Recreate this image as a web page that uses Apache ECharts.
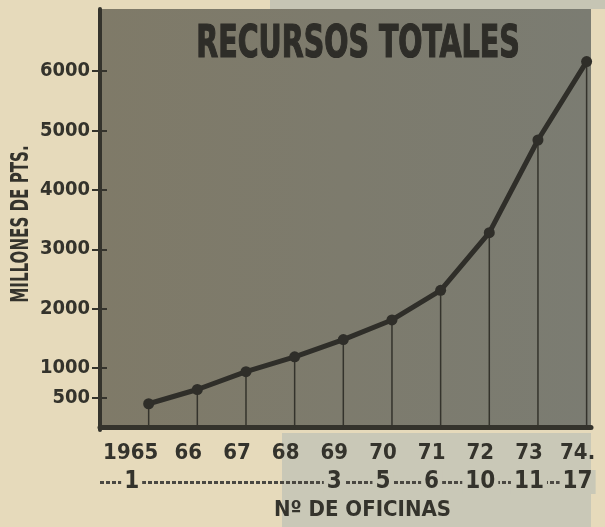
<!DOCTYPE html>
<html><head><meta charset="utf-8">
<script src="https://cdn.jsdelivr.net/npm/echarts@6/dist/echarts.min.js"></script>
<style>html,body{margin:0;padding:0;background:#e6dabb}#c{width:605px;height:527px}</style>
</head><body><div id="c"></div>
<script>
const years = [1965,1966,1967,1968,1969,1970,1971,1972,1973,1974];
const yearLabels = ['1965','66','67','68','69','70','71','72','73','74.'];
const recursos = [400,640,940,1190,1480,1810,2310,3280,4840,6160];
const oficinas = ['1','','','','3','5','6','10','11','17'];
const yTicks = [500,1000,2000,3000,4000,5000,6000];
const chartTitle = 'RECURSOS TOTALES';
const yName = 'MILLONES DE PTS.';
const xName = 'Nº DE OFICINAS';

const F = "'Liberation Sans Narrow','DejaVu Sans Condensed','DejaVu Sans',sans-serif";
const INK = '#34332c';
const PAPER = '#e6dabb';
const BLUE = '#c9c8b7';
const XMIN = 1964, XMAX = 1974.09, SHIFT = 0.185;

const pts = years.map((y,i)=>[y, recursos[i]]);
const offYears = years.filter((y,i)=>oficinas[i] !== '');

const chart = echarts.init(document.getElementById('c'), null, {renderer:'canvas'});
chart.setOption({
  backgroundColor: PAPER,
  animation: false,
  grid: {left:100, top:9, right:14, bottom:97, show:true, borderWidth:0,
    backgroundColor: new echarts.graphic.LinearGradient(0,0,1,0,[{offset:0,color:'#7f7a68'},{offset:1,color:'#7b7c72'}])},
  xAxis: [{
    type:'value', min:XMIN, max:XMAX, position:'bottom',
    axisLine:{show:true, lineStyle:{color:INK, width:5}},
    axisTick:{show:false}, splitLine:{show:false}, axisLabel:{show:false}
  },{
    type:'value', min:XMIN+SHIFT, max:XMAX+SHIFT, position:'bottom',
    axisLine:{show:false}, axisTick:{show:false}, splitLine:{show:false},
    axisLabel:{
      customValues: years, margin:12, hideOverlap:false,
      formatter:(v)=>{const i=years.indexOf(v); return i===0 ? '{t|'+yearLabels[i]+'}{s|}' : '{t|'+yearLabels[i]+'}';},
      rich:{
        t:{fontSize:22, fontWeight:'bold', color:INK, fontFamily:F},
        s:{width:18, fontSize:22}
      }
    }
  },{
    type:'value', min:XMIN+SHIFT, max:XMAX+SHIFT, position:'bottom', offset:52,
    axisLine:{show:true, lineStyle:{color:'#4a4842', width:3, type:[4,2], cap:'butt'}},
    axisTick:{show:false}, splitLine:{show:false},
    name: xName, nameLocation:'middle', nameGap:10,
    nameTextStyle:{fontSize:22, fontWeight:'bold', color:INK, fontFamily:F, padding:[0,0,0,34], verticalAlign:'top'},
    axisLabel:{
      customValues: offYears, margin:0, verticalAlign:'middle', hideOverlap:false,
      formatter:(v)=>{const i=years.indexOf(v); return i===0 ? '{a|'+oficinas[i]+'}{s|}' : '{b|'+oficinas[i]+'}';},
      rich:{
        a:{fontSize:24, fontWeight:'bold', color:INK, fontFamily:F, backgroundColor:PAPER, padding:[0,3]},
        b:{fontSize:24, fontWeight:'bold', color:INK, fontFamily:F, backgroundColor:BLUE, padding:[0,3]},
        s:{width:16, fontSize:24}
      }
    }
  }],
  yAxis: [{
    type:'value', min:-42, max:7045,
    axisLine:{show:true, lineStyle:{color:INK, width:4}},
    axisTick:{show:true, customValues:yTicks, length:8, lineStyle:{color:INK, width:2}},
    splitLine:{show:false},
    axisLabel:{customValues:yTicks, margin:10, fontSize:20, fontWeight:'bold', color:INK, fontFamily:F,
      formatter:(v)=>String(v)}
  },{
    type:'value', min:-42, max:7045, position:'left',
    axisLine:{show:false},
    axisTick:{show:true, inside:true, customValues:yTicks, length:7, lineStyle:{color:INK, width:2}},
    splitLine:{show:false}, axisLabel:{show:false}
  }],
  graphic: [
    {type:'rect', z:-10, shape:{x:282, y:433, width:309, height:94}, style:{fill:BLUE}},
    {type:'rect', z:-10, shape:{x:270, y:0, width:335, height:9}, style:{fill:'#c6c5b4'}},
    {type:'text', x:358, y:46, scaleX:0.72, style:{text:chartTitle, font:"bold 44px 'DejaVu Sans Condensed','DejaVu Sans',sans-serif", fill:'#2e2d28', stroke:'#2e2d28', lineWidth:1.2, align:'center', verticalAlign:'middle'}},
    {type:'text', x:22, y:224, rotation:Math.PI/2, scaleX:0.7, style:{text:yName, font:"bold 24px 'DejaVu Sans Condensed','DejaVu Sans',sans-serif", fill:INK, align:'center', verticalAlign:'middle'}}
  ],
  series: [{
    type:'bar', data:pts, barWidth:1.5, silent:true, itemStyle:{color:'#34332c'}, z:2
  },{
    type:'line', data:pts, symbol:'circle', symbolSize:11, silent:true, z:3,
    lineStyle:{color:'#2f2e29', width:5}, itemStyle:{color:'#2f2e29'}
  }]
});
</script></body></html>
